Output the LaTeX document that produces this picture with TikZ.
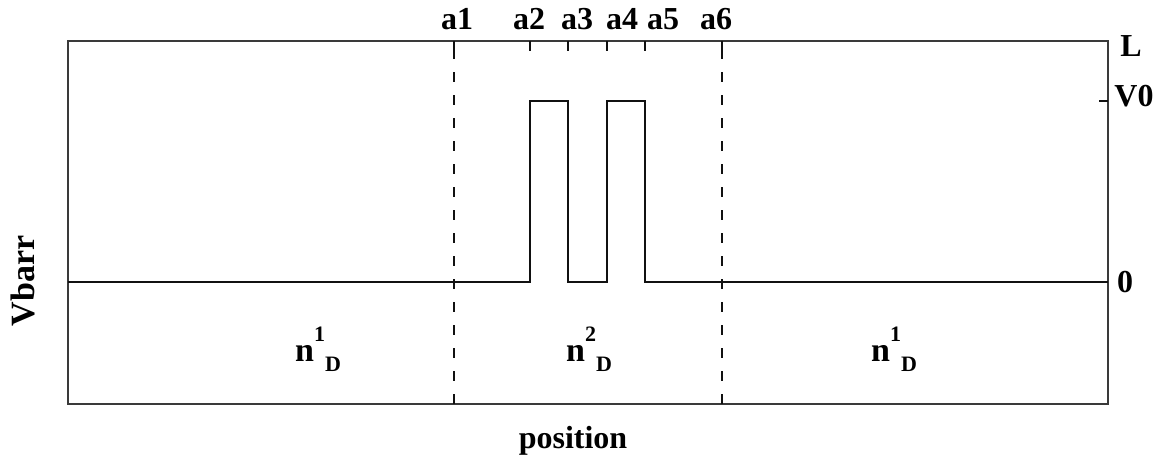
\documentclass[tikz,border=0pt]{standalone}
\usepackage{fontspec}
\setmainfont{Liberation Serif}
\usetikzlibrary{positioning}
\definecolor{frameline}{HTML}{3A3A3A}
\definecolor{barrline}{HTML}{111111}

\newcommand{\nD}[1]{n\raisebox{0.6em}{\fontsize{22}{22}\selectfont #1}\raisebox{-0.28em}{\fontsize{22}{22}\selectfont D}}

\begin{document}
\begin{tikzpicture}[x=1pt, y=-1pt,
    frame/.style={draw=frameline, line width=1.4pt},
    boundary/.style={draw=barrline, line width=1.3pt, dash pattern=on 10pt off 13pt},
    potential/.style={draw=barrline, line width=1.3pt},
    tickmark/.style={draw=barrline, line width=1.3pt},
    lbl/.style={font=\fontsize{32}{36}\selectfont\bfseries, inner sep=0pt, anchor=base},
    every node/.style={text=black}
]

\useasboundingbox (0,0) rectangle (1160,462);

% Frame
\coordinate (nw) at (68,41);
\coordinate (se) at (1108,404);
\draw[frame] (nw) rectangle (se);

% Region boundaries a1 and a6
\coordinate (a1top) at (454,41);
\coordinate (a1bot) at (454,404);
\coordinate (a6top) at (722,41);
\coordinate (a6bot) at (722,404);
\draw[boundary] (a1bot) -- (a1top);
\draw[boundary] (a6bot) -- (a6top);

% Ticks on top edge
\foreach \xx in {454,530,568,607,645,722}
    \draw[tickmark] (\xx,41) -- (\xx,51);

% Tick for V0 on right edge
\draw[tickmark] (1099,101) -- (1108,101);

% Barrier profile
\draw[potential] (68,282) -- (530,282) -- (530,101) -- (568,101) -- (568,282)
    -- (607,282) -- (607,101) -- (645,101) -- (645,282) -- (1108,282);

% Top labels
\node[lbl] (la1) at (457,30) {a1};
\node[lbl] (la2) at (529,30) {a2};
\node[lbl] (la3) at (577,30) {a3};
\node[lbl] (la4) at (622,30) {a4};
\node[lbl] (la5) at (663,30) {a5};
\node[lbl] (la6) at (716,30) {a6};

% Right labels
\node[lbl] (lL) at (1131,57) {L};
\node[lbl] (lV) at (1134,107) {V0};
\node[lbl] (lzero) at (1125,293) {0};

% Axis titles
\node[lbl, anchor=center, rotate=90, font=\fontsize{34}{36}\selectfont\bfseries] (ylab) at (23,281) {Vbarr};
\node[lbl] (xlab) at (573,448) {position};

% Region labels
\node[lbl, font=\fontsize{34}{36}\selectfont\bfseries] (nleft) at (318,362) {\nD{1}};
\node[lbl, font=\fontsize{34}{36}\selectfont\bfseries] (nmid) at (589,362) {\nD{2}};
\node[lbl, font=\fontsize{34}{36}\selectfont\bfseries] (nright) at (894,362) {\nD{1}};

\end{tikzpicture}
\end{document}
